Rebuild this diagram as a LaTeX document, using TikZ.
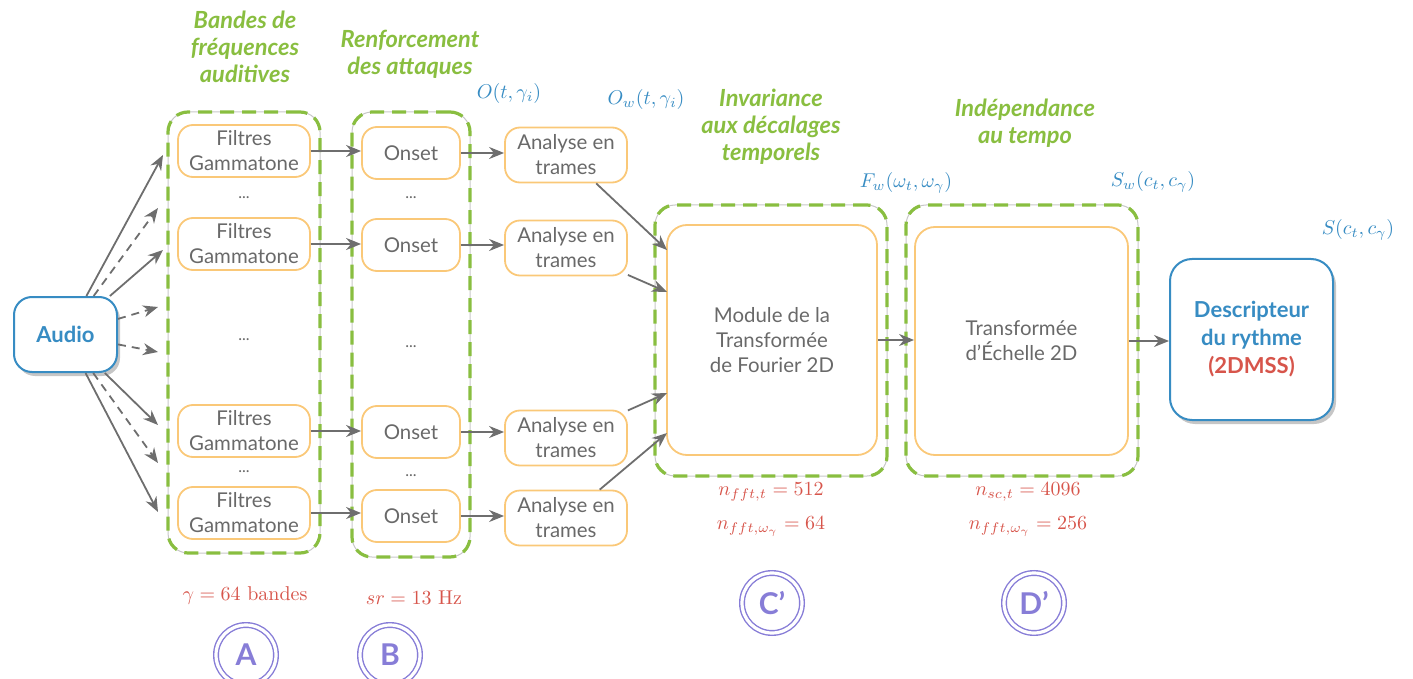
\documentclass[tikz,border=0pt]{standalone}
\usepackage{fontspec}
\setsansfont{Lato}
\usetikzlibrary{arrows.meta,shadows,calc}
\definecolor{grn}{RGB}{137,190,64}
\definecolor{org}{RGB}{250,200,120}
\definecolor{blu}{RGB}{55,140,195}
\definecolor{redt}{RGB}{215,85,75}
\definecolor{prp}{RGB}{135,125,215}
\definecolor{txt}{RGB}{105,105,105}
\definecolor{arr}{RGB}{110,110,110}
\tikzset{
  grp/.style={draw=grn, line width=1.6pt, dash pattern=on 7pt off 4pt, rounded corners=10pt, inner sep=0pt,
     preaction={draw=black!22, line width=0.5pt, solid}},
  obox/.style={draw=org, line width=0.9pt, rounded corners=7.5pt, align=center, text=txt,
     font=\sffamily\fontsize{10.2}{12.5}\selectfont, inner sep=0pt},
  bbox/.style={draw=blu, line width=1pt, rounded corners=9pt, fill=white, align=center, text=blu,
     font=\sffamily\bfseries\fontsize{11}{14}\selectfont, inner sep=0pt,
     drop shadow={shadow xshift=1.5pt, shadow yshift=-2pt, opacity=0.45}},
  head/.style={text=grn, align=center, font=\sffamily\bfseries\itshape\fontsize{11.8}{13.5}\selectfont},
  sig/.style={text=blu, font=\fontsize{10}{12}\selectfont},
  par/.style={text=redt, align=center, font=\fontsize{10}{17}\selectfont},
  dots/.style={text=txt, font=\sffamily\fontsize{8}{8}\selectfont},
  lettre/.style={circle, draw=prp, line width=0.7pt, double=white, double distance=1.6pt, minimum size=30pt,
     inner sep=0pt, text=prp, font=\sffamily\bfseries\fontsize{15}{15}\selectfont},
  arw/.style={draw=arr, line width=0.9pt, -{Stealth[length=7.5pt,width=6pt]}},
  darw/.style={arw, dash pattern=on 4pt off 3pt}
}
\begin{document}
\begin{tikzpicture}[x=0.5pt,y=-0.5pt]
\useasboundingbox (0,0) rectangle (1413,679);
% groups
\node[grp, minimum width=76pt, minimum height=220.5pt] (gA) at (244,332.5) {};
\node[grp, minimum width=59pt, minimum height=222.5pt] (gB) at (411,334.5) {};
\node[grp, minimum width=116pt, minimum height=135.5pt] (gC) at (771,340.5) {};
\node[grp, minimum width=116pt, minimum height=135.5pt] (gD) at (1022,340.5) {};
% filtres
\foreach \i/\y in {1/151,2/244,3/431,4/513}{
  \node[obox, minimum width=66pt, minimum height=26pt] (f\i) at (244,\y) {Filtres\\Gammatone};
}
\foreach \i/\y in {1/153,2/245,3/432,4/516}{
  \node[obox, minimum width=49pt, minimum height=26pt] (o\i) at (411,\y) {Onset};
}
\foreach \i/\y in {1/155,2/248,3/438,4/518}{
  \node[obox, minimum width=61pt, minimum height=27.5pt] (a\i) at (566,\y) {Analyse en\\trames};
}
\node[dots] (fd1) at (244,198) {...};
\node[dots] (fd2) at (244,340) {...};
\node[dots] (fd3) at (244,472) {...};
\node[dots] (od1) at (411,198) {...};
\node[dots] (od2) at (411,347) {...};
\node[dots] (od3) at (411,476) {...};
\node[obox, minimum width=105pt, minimum height=115pt, rounded corners=10pt] (cin) at (772,340) {Module de la\\Transformée\\de Fourier 2D};
\node[obox, minimum width=106.5pt, minimum height=114pt, rounded corners=10pt] (din) at (1021.5,341) {Transformée\\d'Échelle 2D};
\node[bbox, minimum width=51.5pt, minimum height=37.5pt] (audio) at (65.5,334.5) {Audio};
\node[bbox, minimum width=81.5pt, minimum height=80.5pt, rounded corners=11pt] (desc) at (1251.5,339.5) {Descripteur\\du rythme\\\textcolor{redt}{(2DMSS)}};
% headings
\node[head] (hA) at (245,47) {Bandes de\\fréquences\\auditives};
\node[head] (hB) at (410,54) {Renforcement\\des attaques};
\node[head] (hC) at (771,127) {Invariance\\aux décalages\\temporels};
\node[head] (hD) at (1025,123) {Indépendance\\au tempo};
% signals
\node[sig] (s1) at (509,94) {$O(t,\gamma_i)$};
\node[sig] (s2) at (646,100) {$O_w(t,\gamma_i)$};
\node[sig] (s3) at (906,183) {$F_w(\omega_t,\omega_\gamma)$};
\node[sig] (s4) at (1153,182) {$S_w(c_t,c_\gamma)$};
\node[sig] (s5) at (1358,230) {$S(c_t,c_\gamma)$};
% parameters
\node[par] (pA) at (245,596) {$\gamma=64$ bandes};
\node[par] (pB) at (414,598) {$sr=13$ Hz};
\node[par] (pC) at (771,510) {$n_{fft,t}=512$\\$n_{fft,\omega_\gamma}=64$};
\node[par] (pD) at (1028,510) {$n_{sc,t}=4096$\\$n_{fft,\omega_\gamma}=256$};
% letters
\node[lettre] (lA) at (246,655) {A};
\node[lettre] (lB) at (390,655) {B};
\node[lettre] (lC) at (772,603) {C'};
\node[lettre] (lD) at (1034,603) {D'};
% fan arrows
\coordinate (t1) at (163,155);
\coordinate (t2) at (158,208);
\coordinate (t3) at (163,250);
\coordinate (t4) at (158,307);
\coordinate (t5) at (158,352);
\coordinate (t6) at (158,425);
\coordinate (t7) at (158,463);
\coordinate (t8) at (158,512);
\draw[arw] (audio) -- (t1);
\draw[darw] (audio) -- (t2);
\draw[arw] (audio) -- (t3);
\draw[darw] (audio) -- (t4);
\draw[darw] (audio) -- (t5);
\draw[arw] (audio) -- (t6);
\draw[darw] (audio) -- (t7);
\draw[arw] (audio) -- (t8);
% chains
\foreach \i in {1,2,3,4}{
  \draw[arw] (f\i.east) -- (o\i.west |- f\i.east);
  \draw[arw] (o\i.east) -- (a\i.west |- o\i.east);
}
\coordinate (c1) at (667,250);
\coordinate (c2) at (667,292);
\coordinate (c3) at (667,393);
\coordinate (c4) at (667,433);
\draw[arw] (a1) -- (c1);
\draw[arw] (a2) -- (c2);
\draw[arw] (a3) -- (c3);
\draw[arw] (a4) -- (c4);
\draw[arw] (cin.east) -- (din.west |- cin.east);
\draw[arw] (din.east) -- (desc.west |- din.east);
\end{tikzpicture}
\end{document}
